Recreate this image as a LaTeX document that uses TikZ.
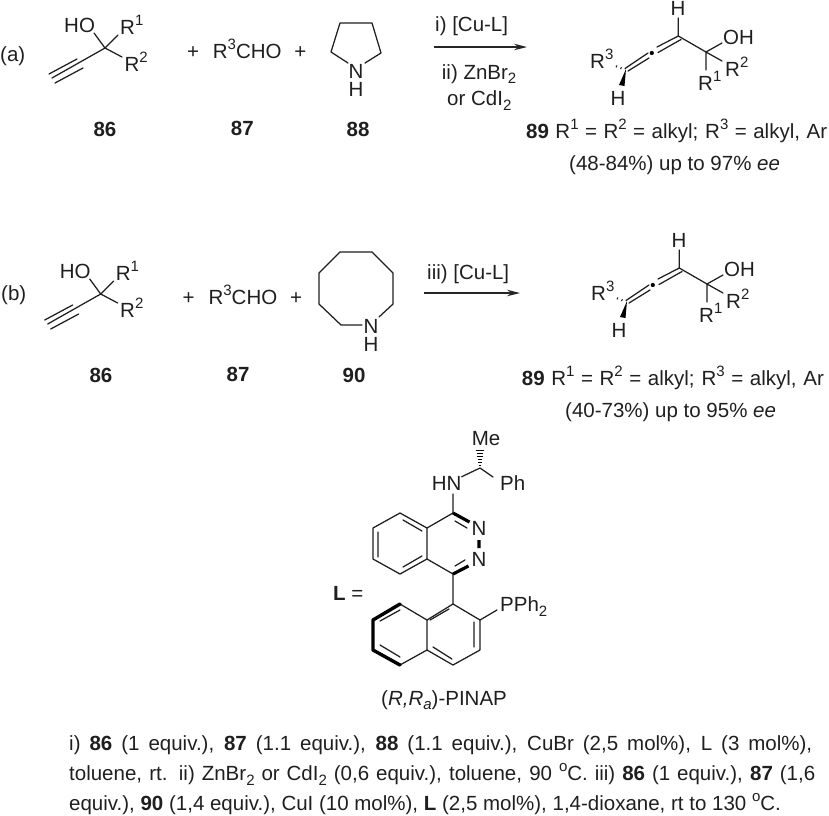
\documentclass[tikz,border=0pt]{standalone}
\usepackage{fontspec}
\setmainfont{Liberation Sans}
\usetikzlibrary{arrows.meta}
\newcommand\up[1]{\raisebox{0.42em}{\fontsize{15}{15}\selectfont #1}}
\newcommand\dn[1]{\raisebox{-0.22em}{\fontsize{15}{15}\selectfont #1}}
\newcommand\nhstack{\vbox{\baselineskip=17.7pt\lineskiplimit=-20pt\halign{\hfil##\hfil\cr N\cr H\cr}}}
\tikzset{
  lab/.style={inner sep=0pt,anchor=base west,text=black!88},
  cen/.style={inner sep=0pt,anchor=base,text=black!88},
  bond/.style={draw=black!88,line width=1.25pt,line cap=round,line join=round},
  boldbond/.style={draw=black,line width=3.4pt,line cap=round,line join=round},
  wedge/.style={fill=black,draw=none},
  rxn/.style={draw=black!85,line width=1.2pt,-{Stealth[length=13pt,width=6.5pt]}},
}
\newcommand\alkynol[3]{%
\begin{scope}[shift={(#2,#3)}]
  \coordinate (#1c) at (105,48);
  \coordinate (#1ho) at (94,33);
  \coordinate (#1ra) at (118,35);
  \coordinate (#1rb) at (122,57);
  \coordinate (#1t) at (52,78);
  \coordinate (#1ua) at (49,74);\coordinate (#1ub) at (77,59);
  \coordinate (#1la) at (55,83);\coordinate (#1lb) at (83,68);
  \draw[bond] (#1ho)--(#1c) (#1ra)--(#1c) (#1rb)--(#1c) (#1t)--(#1c) (#1ua)--(#1ub) (#1la)--(#1lb);
  \node[lab] (#1HO) at (64,32.3) {HO};
  \node[lab] (#1R1) at (120,34.3) {R\up{1}};
  \node[lab] (#1R2) at (124.3,71) {R\up{2}};
  \node[cen] (#1P1) at (193,58.5) {+};
  \node[lab] (#1CHO) at (212.7,58.3) {R\up{3}CHO};
  \node[cen] (#1P2) at (300.3,58.5) {+};
\end{scope}}
\newcommand\allene[3]{%
\begin{scope}[shift={(#2,#3)}]
  \coordinate (#1v) at (678.3,36);
  \coordinate (#1hh) at (678.3,18);
  \coordinate (#1q) at (706,52);
  \coordinate (#1oh) at (722,43);
  \coordinate (#1rb) at (722,61);
  \coordinate (#1ra) at (706,70);
  \coordinate (#1ua) at (678.3,36);\coordinate (#1ub) at (657,47);
  \coordinate (#1va) at (681,39.5);\coordinate (#1vb) at (658,52.5);
  \coordinate (#1wa) at (648,53);\coordinate (#1wb) at (625,68.5);
  \coordinate (#1xa) at (649,58);\coordinate (#1xb) at (628,71);
  \coordinate (#1d) at (651.8,53);
  \draw[bond] (#1hh)--(#1v)--(#1q) (#1oh)--(#1q) (#1rb)--(#1q) (#1ra)--(#1q)
     (#1ua)--(#1ub) (#1va)--(#1vb) (#1wa)--(#1wb) (#1xa)--(#1xb);
  \fill[black] (#1d) circle (2.1pt);
  \fill[wedge] (626,69) -- (619,85) -- (624.5,86) -- cycle;
  \draw[black!88,line width=1.1pt] (621.5,67.3)--(620.5,69) (617,65.5)--(616,67.3);
  \node[cen] (#1H) at (678,15) {H};
  \node[lab] (#1OH) at (723,44.3) {OH};
  \node[lab] (#1R2) at (725,76) {R\up{2}};
  \node[lab] (#1R1) at (698,90) {R\up{1}};
  \node[lab] (#1R3) at (590,68.3) {R\up{3}};
  \node[cen] (#1HB) at (618,105) {H};
\end{scope}}
\begin{document}
\begin{tikzpicture}[x=1pt,y=-1pt,font=\fontsize{20.5}{24}\selectfont]
\useasboundingbox (0,0) rectangle (829,815);
% (a)
\node[lab] (tagA) at (0,61) {(a)};
\alkynol{a}{0}{0}
\coordinate (p1) at (340,23);\coordinate (p2) at (372,23);\coordinate (p3) at (381,53);
\coordinate (p4) at (365,63);\coordinate (p5) at (348,63);\coordinate (p6) at (331,52);
\draw[bond] (p5)--(p6)--(p1)--(p2)--(p3)--(p4);
\node[cen] (aNH) at (356,96) {\nhstack};
\node[cen] (l86a) at (105,136.7) {\textbf{86}};
\node[cen] (l87a) at (242.3,135) {\textbf{87}};
\node[cen] (l88) at (358,136.7) {\textbf{88}};
\coordinate (arA1) at (434,47);\coordinate (arA2) at (527,47);
\draw[rxn] (arA1)--(arA2);
\node[lab] (ca1) at (435,31.7) {i) [Cu-L]};
\node[lab] (ca2) at (441.7,79) {ii) ZnBr\dn{2}};
\node[lab] (ca3) at (447,105.7) {or CdI\dn{2}};
\allene{pa}{0}{0}
\node[lab] (ya1) at (526,138.3) {\makebox[301pt][s]{\textbf{89} R\up{1} = R\up{2} = alkyl; R\up{3} = alkyl, Ar}};
\node[lab] (ya2) at (569,170) {(48-84\%) up to 97\% \textit{ee}};
% (b)
\node[lab] (tagB) at (1,300.7) {(b)};
\alkynol{b}{-4.3}{246}
\coordinate (o1) at (340,252);\coordinate (o2) at (372,252);\coordinate (o3) at (393,273);
\coordinate (o4) at (393,304);\coordinate (o5) at (379,317);\coordinate (o6) at (362,325);
\coordinate (o7) at (341,325);\coordinate (o8) at (319,304);\coordinate (o9) at (319,273);
\draw[bond] (o5)--(o4)--(o3)--(o2)--(o1)--(o9)--(o8)--(o7)--(o6);
\node[cen] (bNH) at (371,351) {\nhstack};
\node[cen] (l86b) at (101,382.7) {\textbf{86}};
\node[cen] (l87b) at (238,381) {\textbf{87}};
\node[cen] (l90) at (354,382.7) {\textbf{90}};
\coordinate (arB1) at (424,293);\coordinate (arB2) at (520,293);
\draw[rxn] (arB1)--(arB2);
\node[lab] (cb1) at (427,279) {iii) [Cu-L]};
\allene{pb}{1}{232}
\node[lab] (yb1) at (521.7,385) {\makebox[302pt][s]{\textbf{89} R\up{1} = R\up{2} = alkyl; R\up{3} = alkyl, Ar}};
\node[lab] (yb2) at (565,417) {(40-73\%) up to 95\% \textit{ee}};
% PINAP
\coordinate (b1) at (400,513);\coordinate (b2) at (427,528);\coordinate (b3) at (427,559);
\coordinate (b4) at (400,574);\coordinate (b5) at (373,559);\coordinate (b6) at (373,528);
\coordinate (c1) at (453,513);\coordinate (c4) at (453,574);
\coordinate (n1) at (469.5,522);\coordinate (n2) at (468.5,566);
\coordinate (nh) at (453,494);\coordinate (hn) at (461.7,476.7);
\coordinate (ch) at (480,468);\coordinate (ph) at (493,477);
\coordinate (nn1) at (479,540);\coordinate (nn2) at (479,548);
\draw[bond] (b1)--(b2)--(b3)--(b4)--(b5)--(b6)--cycle;
\draw[bond] (378,532)--(378,557) (403,520)--(422,531) (403,567)--(422,556);
\draw[bond] (b2)--(c1) (b3)--(c4) (c1)--(nh) (hn)--(ch)--(ph) (c4)--(453,604);
\draw[bond] (455,521)--(467,528) (455,566)--(465,560);
\draw[draw=black,line width=3.2pt] (c1)--(n1) (c4)--(n2) (nn1)--(nn2);
\foreach \yy/\ww in {465.5/1,462.5/1.6,459.5/2.2,456.5/2.8,453.5/3.4,450.5/4}
  \draw[black,line width=1pt] (480-\ww,\yy)--(480+\ww,\yy);
\coordinate (d1) at (453,604);\coordinate (d2) at (480,620);\coordinate (d3) at (480,650);
\coordinate (d4) at (453,665);\coordinate (d5) at (427,650);\coordinate (d6) at (427,620);
\coordinate (e1) at (400,604);\coordinate (e2) at (373,620);\coordinate (e3) at (373,650);
\coordinate (e4) at (400,665);\coordinate (pp) at (497,610);
\draw[bond] (d1)--(d2)--(d3)--(d4)--(d5)--(d6)--cycle;
\draw[bond] (d6)--(e1) (d5)--(e4) (d2)--(pp);
\draw[bond] (430,620)--(449,609) (474,622)--(474,647) (433,647)--(452,659);
\draw[bond] (380,621)--(400,610) (380,645)--(400,657);
\draw[boldbond] (e1)--(e2)--(e3)--(e4);
\node[lab] (HN) at (431.7,490.7) {HN};
\node[lab] (Ph) at (500,490.7) {Ph};
\node[lab] (Me) at (471.7,445) {Me};
\node[cen] (N1) at (479,535) {N};
\node[cen] (N2) at (479,566.7) {N};
\node[lab] (PPh) at (500,611.7) {PPh\dn{2}};
\node[lab] (Leq) at (333,600) {\textbf{L} =};
\node[lab] (pinap) at (381,705) {(\textit{R,R}\dn{\textit{a}})-PINAP};
% footer
\node[lab] (f1) at (69,750) {\makebox[743pt][s]{i) \textbf{86} (1 equiv.), \textbf{87} (1.1 equiv.), \textbf{88} (1.1 equiv.), CuBr (2,5 mol\%), L (3 mol\%),}};
\node[lab] (f2) at (69,780.5) {\makebox[746pt][s]{toluene, rt. ii) ZnBr\dn{2} or CdI\dn{2} (0,6 equiv.), toluene, 90 \up{o}C. iii) \textbf{86} (1 equiv.), \textbf{87} (1,6}};
\node[lab] (f3) at (69,810.5) {equiv.), \textbf{90} (1,4 equiv.), CuI (10 mol\%), \textbf{L} (2,5 mol\%), 1,4-dioxane, rt to 130 \up{o}C.};
\end{tikzpicture}
\end{document}
